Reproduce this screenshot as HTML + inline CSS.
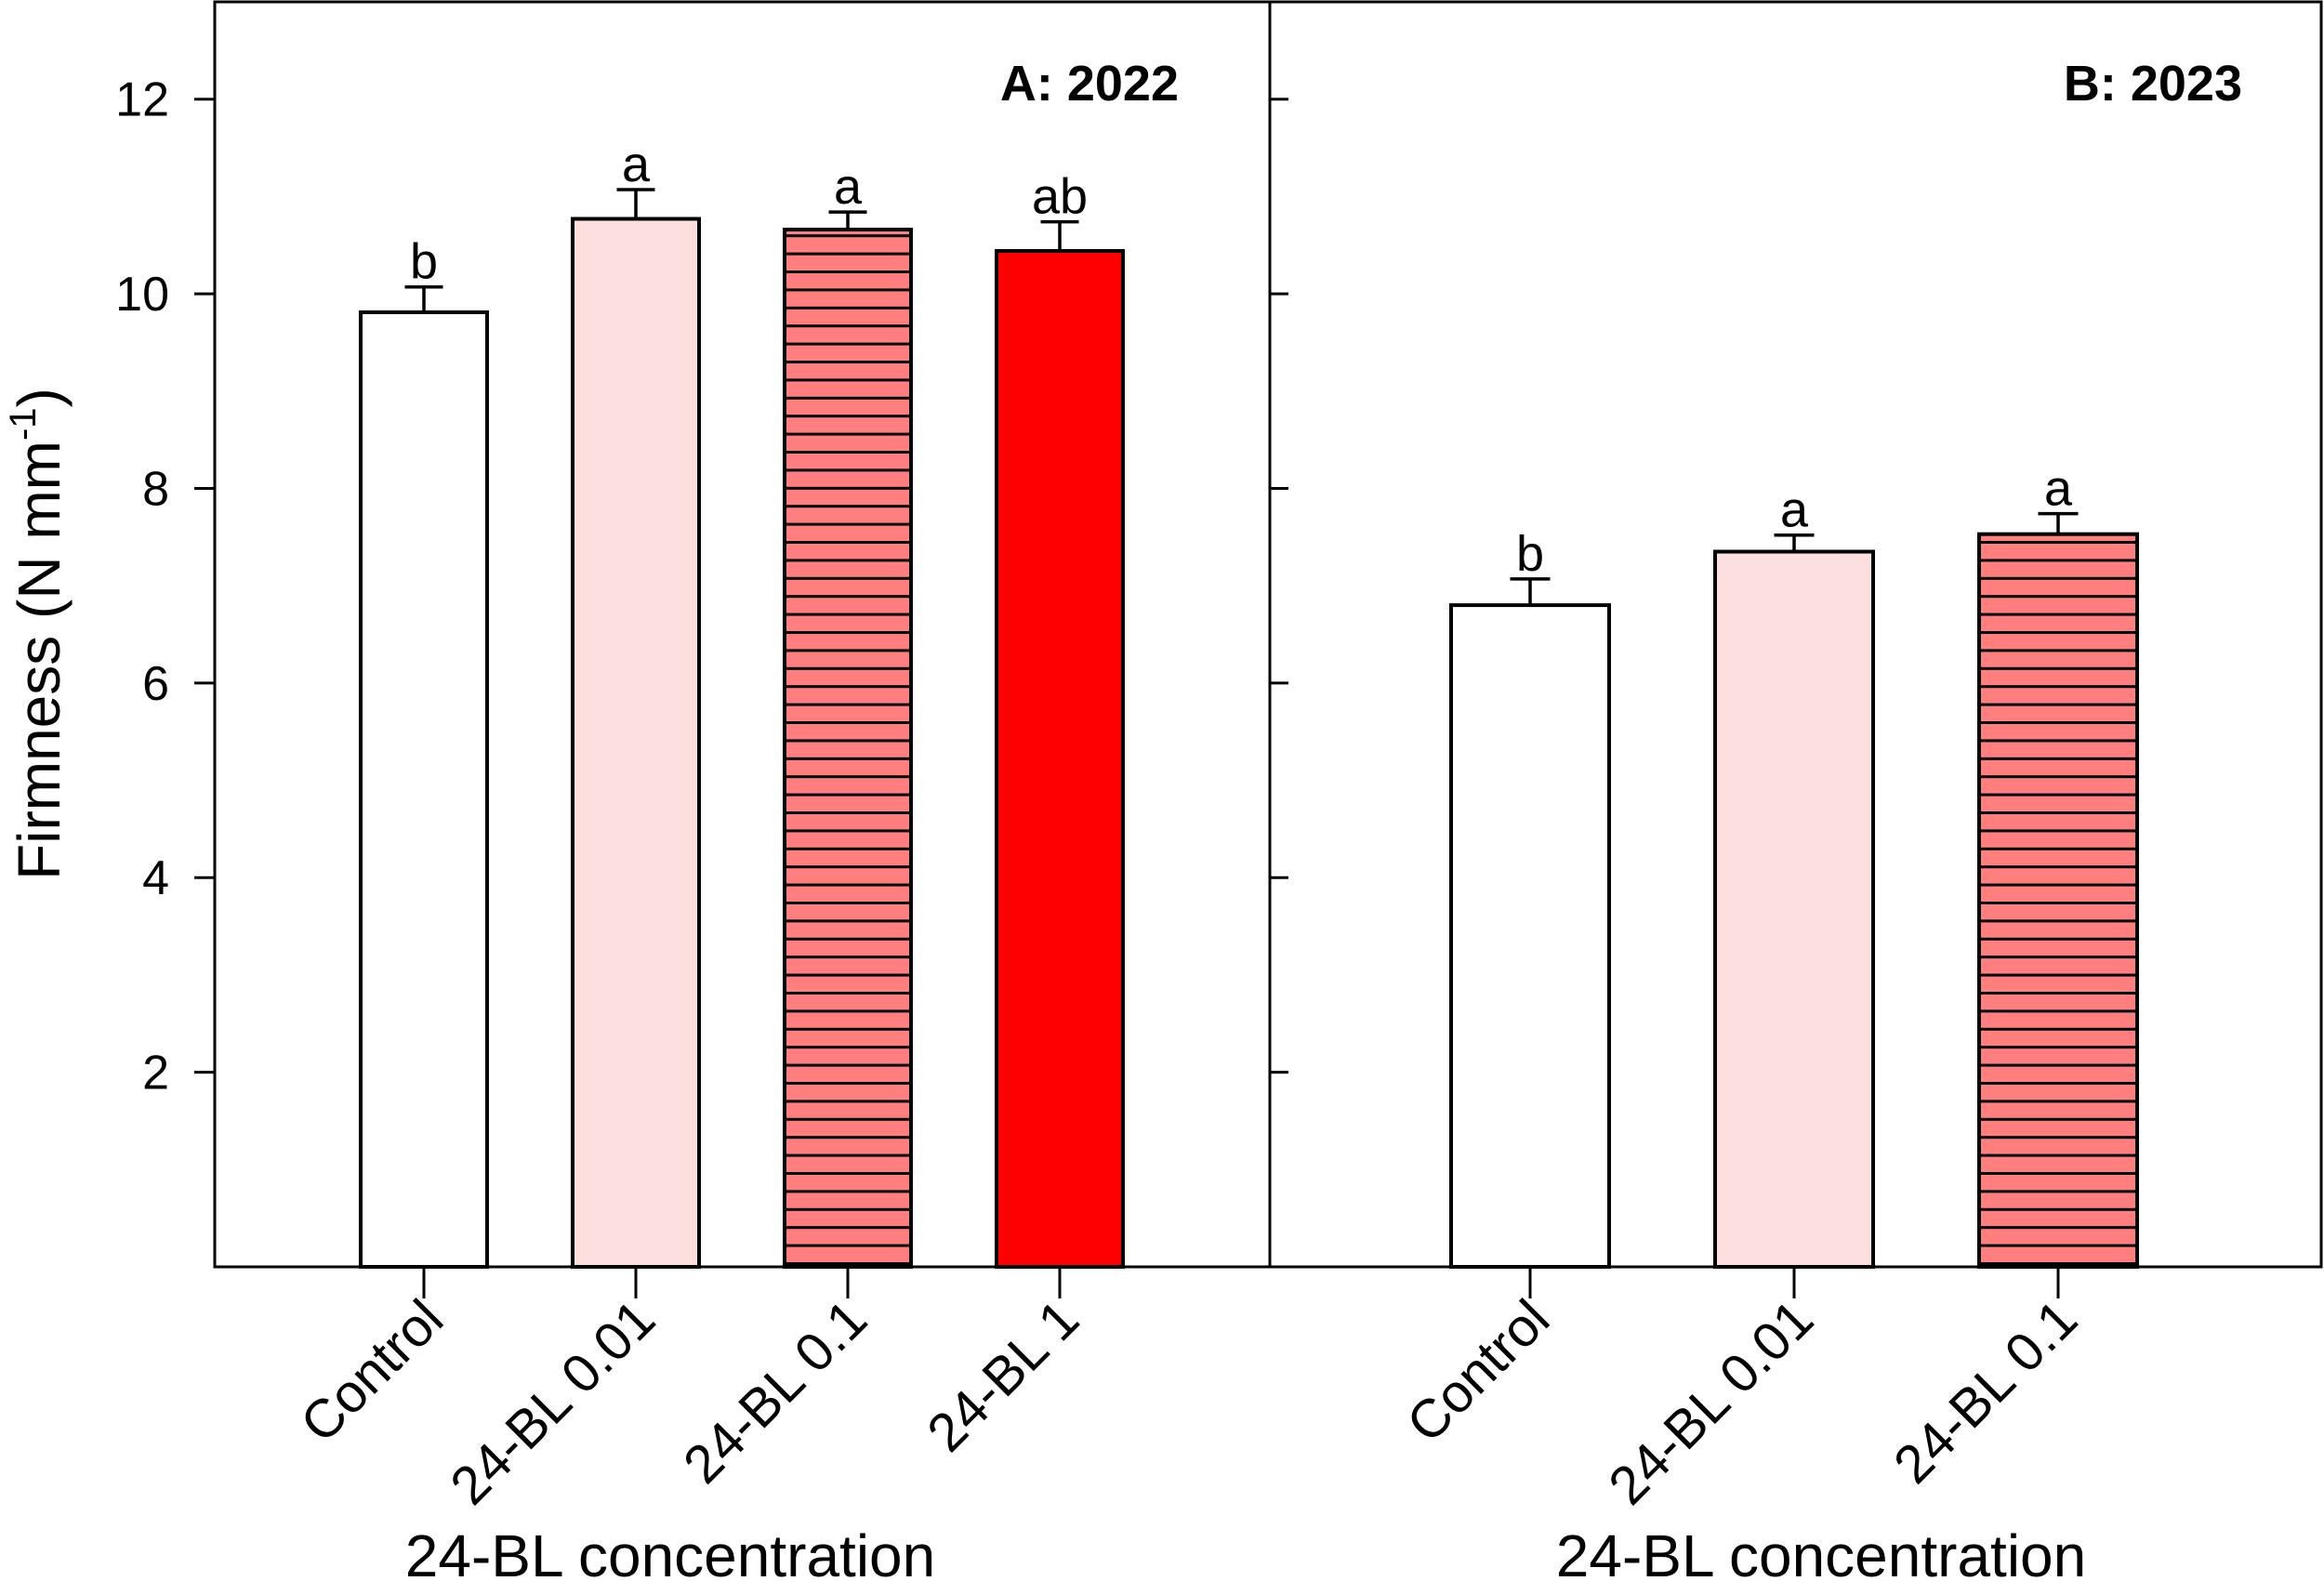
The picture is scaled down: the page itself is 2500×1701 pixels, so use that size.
<!DOCTYPE html>
<html><head><meta charset="utf-8"><style>html,body{margin:0;padding:0;background:#fff}svg{display:block}text{font-family:"Liberation Sans",Arial,sans-serif;fill:#000}</style></head>
<body>
<svg id="chart" width="2500" height="1701" viewBox="0 0 2500 1701" xmlns="http://www.w3.org/2000/svg">
<defs>
<pattern id="hatch" patternUnits="userSpaceOnUse" width="20" height="19.4"><rect width="20" height="19.4" fill="#FF7F7F"/><rect y="0" width="20" height="3" fill="#000"/></pattern>
</defs>
<g id="plot"></g>
</svg>
<script>
const categoriesA = ["Control","24-BL 0.01","24-BL 0.1","24-BL 1"];
const valuesA = [9.81, 10.77, 10.66, 10.44];
const errorsA = [0.26, 0.30, 0.18, 0.30];
const lettersA = ["b","a","a","ab"];
const categoriesB = ["Control","24-BL 0.01","24-BL 0.1"];
const valuesB = [6.80, 7.35, 7.53];
const errorsB = [0.27, 0.17, 0.21];
const lettersB = ["b","a","a"];
const yTicks = [2,4,6,8,10,12];
const fills = ["#FFFFFF","#FDDFDF","url(#hatch)","#FF0000"];

const NS = "http://www.w3.org/2000/svg";
const g = document.getElementById("plot");
const top0 = 2, bottom0 = 1363, yMax = 13;
function y(v){ return bottom0 - v/yMax*(bottom0-top0); }
function mk(tag, attrs, parent){ const e=document.createElementNS(NS,tag); for(const k in attrs) e.setAttribute(k,attrs[k]); (parent||g).appendChild(e); return e; }

const panels = [
 {name:"a", x0:231, x1:1366, first:456, step:228, bw:136, cap:41, cats:categoriesA, vals:valuesA, errs:errorsA, lets:lettersA, title:"A: 2022", tx:1268, ticksOut:true, xc:721},
 {name:"b", x0:1366, x1:2497, first:1646, step:284, bw:170, cap:43, cats:categoriesB, vals:valuesB, errs:errorsB, lets:lettersB, title:"B: 2023", tx:2412, ticksOut:false, xc:1959}
];
panels.forEach(p=>{
  const pg = mk("g",{});
  
  
  p.vals.forEach((v,i)=>{
    const cx = p.first + i*p.step;
    const b = mk("rect",{x:cx-p.bw/2, y:y(v), width:p.bw, height:bottom0-y(v), fill:fills[i], stroke:"#000","stroke-width":4}, pg);
    
    
    const et = y(v+p.errs[i]);
    const e1 = mk("path",{d:`M${cx} ${y(v)}V${et}M${cx-p.cap/2} ${et}H${cx+p.cap/2}`, stroke:"#000","stroke-width":3.5,fill:"none"}, pg);
    
    
    const lt = mk("text",{x:cx, y:et-9, "text-anchor":"middle","font-size":54}, pg);
    lt.textContent = p.lets[i];
    
    
    mk("line",{x1:cx,x2:cx,y1:bottom0,y2:bottom0+34,stroke:"#000","stroke-width":3}, pg);
    const cl = mk("text",{x:0,y:0,"text-anchor":"end","font-size":58,transform:`translate(${cx+24},${bottom0+60}) rotate(-45)`}, pg);
    cl.textContent = p.cats[i];
    
    
  });
  yTicks.forEach(t=>{
    const yy = y(t);
    if(p.ticksOut){
      mk("line",{x1:p.x0-22,x2:p.x0,y1:yy,y2:yy,stroke:"#000","stroke-width":3}, pg);
      const tl = mk("text",{x:182,y:yy+18,"text-anchor":"end","font-size":52}, pg);
      tl.textContent = t;
      
      
    } else {
      mk("line",{x1:p.x0,x2:p.x0+20,y1:yy,y2:yy,stroke:"#000","stroke-width":3}, pg);
    }
  });
  const fr = mk("rect",{x:p.x0,y:top0,width:p.x1-p.x0,height:bottom0-top0,fill:"none",stroke:"#000","stroke-width":3}, pg);
  
  
  const ti = mk("text",{x:p.tx,y:108,"text-anchor":"end","font-size":54,"font-weight":"bold"}, pg);
  ti.textContent = p.title;
  
  
  const xt = mk("text",{x:p.xc,y:1696,"text-anchor":"middle","font-size":64}, pg);
  xt.textContent = "24-BL concentration";
  
  
});
const yt = mk("text",{x:0,y:0,"text-anchor":"middle","font-size":64,transform:"translate(64,682) rotate(-90)"});


yt.appendChild(document.createTextNode("Firmness (N mm"));
const sup = mk("tspan",{dy:-26,"font-size":40}, yt); sup.textContent="-1";
const cp = mk("tspan",{dy:26}, yt); cp.textContent=")";
</script>
</body></html>
